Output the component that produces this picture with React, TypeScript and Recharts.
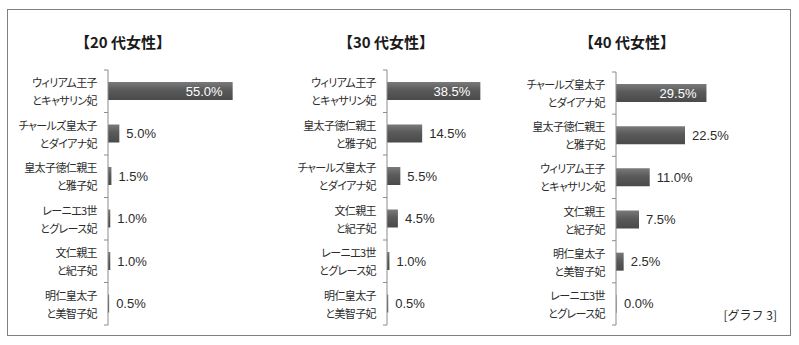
import React from "react";
import { BarChart, Bar, XAxis, YAxis, LabelList } from "recharts";

// ---- data ----
const titles = ["【20 代女性】", "【30 代女性】", "【40 代女性】"];

const categories20 = [
  "ウィリアム王子\nとキャサリン妃",
  "チャールズ皇太子\nとダイアナ妃",
  "皇太子徳仁親王\nと雅子妃",
  "レーニエ3世\nとグレース妃",
  "文仁親王\nと紀子妃",
  "明仁皇太子\nと美智子妃",
];
const values20 = [55.0, 5.0, 1.5, 1.0, 1.0, 0.5];

const categories30 = [
  "ウィリアム王子\nとキャサリン妃",
  "皇太子徳仁親王\nと雅子妃",
  "チャールズ皇太子\nとダイアナ妃",
  "文仁親王\nと紀子妃",
  "レーニエ3世\nとグレース妃",
  "明仁皇太子\nと美智子妃",
];
const values30 = [38.5, 14.5, 5.5, 4.5, 1.0, 0.5];

const categories40 = [
  "チャールズ皇太子\nとダイアナ妃",
  "皇太子徳仁親王\nと雅子妃",
  "ウィリアム王子\nとキャサリン妃",
  "文仁親王\nと紀子妃",
  "明仁皇太子\nと美智子妃",
  "レーニエ3世\nとグレース妃",
];
const values40 = [29.5, 22.5, 11.0, 7.5, 2.5, 0.0];

const domains: [number, number][] = [
  [0, 60],
  [0, 40],
  [0, 30],
];

const graphLabel = "[グラフ 3]";

// ---- layout ----
const AXIS_COLOR = "#8c8c8c";
const TEXT_COLOR = "#2b2b2b";
const JP_FONT = '"Noto Sans CJK JP", "Noto Sans", sans-serif';
const NUM_FONT = '"Liberation Sans", Arial, sans-serif';

type PanelCfg = {
  left: number;
  width: number;
  axisW: number;
  plotW: number;
  top: number;
  bottom: number;
  titleX: number;
};

const panels: PanelCfg[] = [
  { left: 10, width: 250, axisW: 98, plotW: 136, top: 70, bottom: 325, titleX: 123 },
  { left: 270, width: 250, axisW: 117, plotW: 97, top: 70, bottom: 325, titleX: 386 },
  { left: 515, width: 265, axisW: 101, plotW: 92, top: 72, bottom: 325, titleX: 627 },
];

const CHART_H = 345;

function makeTick(cfg: PanelCfg, n: number) {
  const halfBand = (cfg.bottom - cfg.top) / n / 2;
  return (props: any) => {
    const { y, payload, index } = props;
    const axisX = cfg.axisW;
    const off = payload && typeof payload.offset === "number" && payload.offset > 0 ? payload.offset : halfBand;
    const lines = String(payload.value).split("\n");
    return (
      <g>
        <line x1={axisX - 4} x2={axisX} y1={y - off} y2={y - off} stroke={AXIS_COLOR} strokeWidth={1} />
        {index === n - 1 && (
          <line x1={axisX - 4} x2={axisX} y1={y + off} y2={y + off} stroke={AXIS_COLOR} strokeWidth={1} />
        )}
        {lines.map((ln, i) => (
          <text
            key={i}
            x={axisX - 11}
            y={y + (i === 0 ? -9 : 9)}
            textAnchor="end"
            dominantBaseline="central"
            fontSize={11}
            fontFamily={JP_FONT}
            fill={TEXT_COLOR}
            letterSpacing={-0.6}
            style={{ fontFeatureSettings: '"palt"' }}
          >
            {ln}
          </text>
        ))}
      </g>
    );
  };
}

function makeLabel(maxVal: number) {
  return (props: any) => {
    const { x, y, width, height, value } = props;
    const v = Number(value);
    const txt = v.toFixed(1) + "%";
    const cy = Number(y) + Number(height) / 2;
    if (v === maxVal) {
      return (
        <text
          x={Number(x) + Number(width) - 10}
          y={cy}
          textAnchor="end"
          dominantBaseline="central"
          fontSize={13}
          fontFamily={NUM_FONT}
          fill="#ffffff"
        >
          {txt}
        </text>
      );
    }
    return (
      <text
        x={Number(x) + Math.max(Number(width), 1) + 7}
        y={cy}
        textAnchor="start"
        dominantBaseline="central"
        fontSize={13}
        fontFamily={NUM_FONT}
        fill={TEXT_COLOR}
      >
        {txt}
      </text>
    );
  };
}

function Panel({
  idx,
  categories,
  values,
}: {
  idx: number;
  categories: string[];
  values: number[];
}) {
  const cfg = panels[idx];
  const data = categories.map((name, i) => ({ name, value: values[i] }));
  const maxVal = Math.max(...values);
  const gid = `barGrad${idx}`;
  return (
    <div style={{ position: "absolute", left: cfg.left, top: 0 }}>
      <BarChart
        width={cfg.width}
        height={CHART_H}
        data={data}
        layout="vertical"
        margin={{
          top: cfg.top,
          bottom: CHART_H - cfg.bottom,
          left: 0,
          right: cfg.width - cfg.axisW - cfg.plotW,
        }}
      >
        <defs>
          <linearGradient id={gid} x1="0" y1="0" x2="0" y2="1">
            <stop offset="0%" stopColor="#7a7a7a" />
            <stop offset="45%" stopColor="#5a5a5a" />
            <stop offset="100%" stopColor="#4a4a4a" />
          </linearGradient>
        </defs>
        <XAxis type="number" domain={domains[idx]} hide />
        <YAxis
          type="category"
          dataKey="name"
          width={cfg.axisW}
          interval={0}
          axisLine={{ stroke: AXIS_COLOR }}
          tickLine={false}
          tick={makeTick(cfg, categories.length)}
        />
        <Bar
          dataKey="value"
          fill={`url(#${gid})`}
          barSize={18}
          minPointSize={0.5}
          isAnimationActive={false}
        >
          <LabelList dataKey="value" content={makeLabel(maxVal)} />
        </Bar>
      </BarChart>
    </div>
  );
}

export default function App() {
  return (
    <div
      style={{
        position: "absolute",
        left: 0,
        top: 0,
        width: 799,
        height: 345,
        background: "#ffffff",
        overflow: "hidden",
      }}
    >
      <div
        style={{
          position: "absolute",
          left: 7,
          top: 9,
          width: 782,
          height: 325,
          border: "1px solid #808080",
        }}
      />
      {titles.map((t, i) => (
        <div
          key={i}
          style={{
            position: "absolute",
            left: panels[i].titleX - 100,
            top: 32,
            width: 200,
            lineHeight: "20px",
            textAlign: "center",
            fontFamily: JP_FONT,
            fontWeight: 700,
            fontSize: 15,
            color: "#1a1a1a",
          }}
        >
          {t}
        </div>
      ))}
      <Panel idx={0} categories={categories20} values={values20} />
      <Panel idx={1} categories={categories30} values={values30} />
      <Panel idx={2} categories={categories40} values={values40} />
      <div
        style={{
          position: "absolute",
          left: 677,
          top: 306,
          width: 100,
          lineHeight: "18px",
          textAlign: "right",
          fontFamily: JP_FONT,
          fontSize: 12,
          color: TEXT_COLOR,
        }}
      >
        {graphLabel}
      </div>
    </div>
  );
}
